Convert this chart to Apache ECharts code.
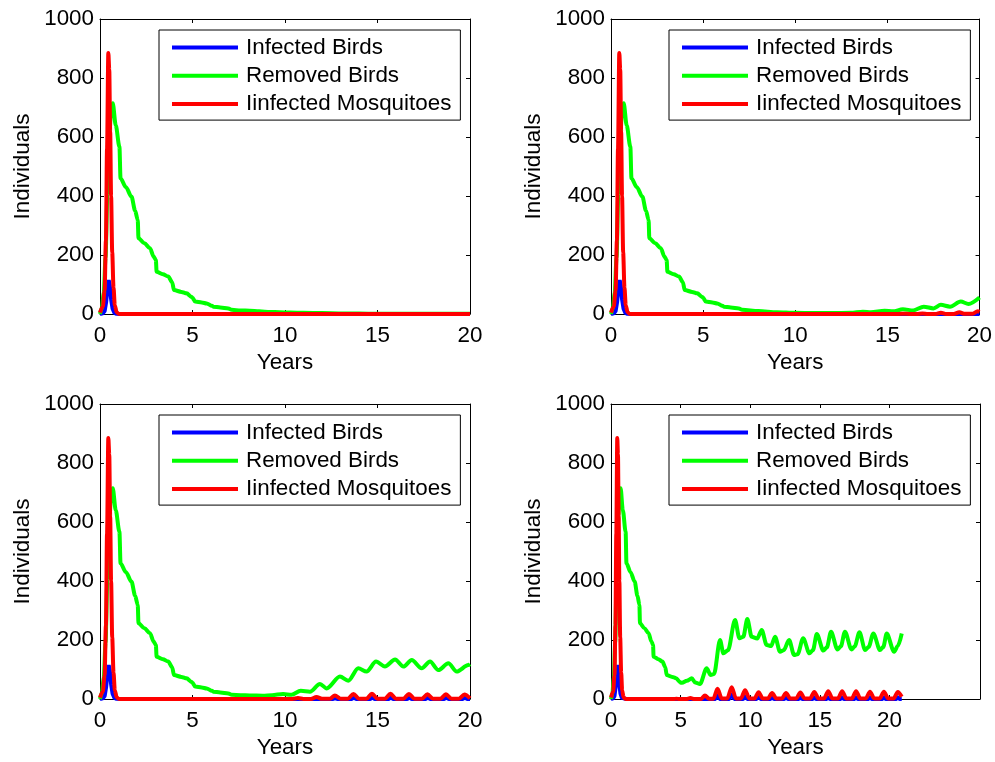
<!DOCTYPE html>
<html>
<head>
<meta charset="utf-8">
<script src="https://cdn.jsdelivr.net/npm/echarts@6/dist/echarts.min.js"></script>
<style>
  html, body { margin: 0; padding: 0; background: #fff; }
  #chart { width: 995px; height: 762px; }
</style>
</head>
<body>
<div id="chart"></div>
<script>
// Series labels shown in every legend box
const seriesNames = ['Infected Birds', 'Removed Birds', 'Iinfected Mosquitoes'];
const xTickValues = [0, 5, 10, 15, 20];
const yTickValues = [0, 200, 400, 600, 800, 1000];

// Initial outbreak, shared by all four scenarios: [years, individuals]
const birdOutbreak = [[0,0],[0.15,2],[0.25,10],[0.33,40],[0.4,85],[0.47,115],[0.53,95],[0.6,50],[0.68,18],[0.78,4],[0.9,0.5],[1.1,0]];
const mosquitoOutbreak = [[0,5],[0.15,25],[0.25,80],[0.32,250],[0.38,560],[0.45,885],[0.5,830],[0.55,620],[0.6,400],[0.66,210],[0.73,90],[0.8,30],[0.9,6],[1.0,1],[1.1,0]];
const removedOutbreak = [[0,0],[0.1,20],[0.2,70],[0.3,190],[0.4,410],[0.5,600],[0.6,690],[0.69,714],[0.85,640],[1.05,567],[1.11,460],[1.4,430],[1.7,398],[1.9,350],[2.04,319],[2.08,257],[2.4,240],[2.7,223],[2.9,195],[3.02,183],[3.06,143],[3.4,135],[3.69,127],[3.9,108],[4.0,81],[4.4,75],[4.68,70],[4.95,58],[5.0,55]];

// Scenario 1 (top left): the infection dies out
const birdTail1 = [[2,0],[20,0]];
const mosquitoTail1 = [[2,0],[20,0]];
const removedTail1 = [[5.14,42],[5.5,39],[5.77,36],[6.05,28],[6.12,25],[6.5,22],[6.94,19],[7.12,14],[7.6,12],[8.1,11],[8.6,9],[9.2,7],[9.7,6],[10.3,5],[11,4],[12,3],[13,2],[14,1.5],[15,1],[16,1],[17,1],[18,0.5],[19,0.5],[20,0.5]];

// Scenario 2 (top right): slow return late in the run
const birdTail2 = [[2,0],[20,0]];
const mosquitoTail2 = [[2,0],[15.6,0],[15.9,1],[16.2,0],[16.6,0],[16.9,2],[17.2,0],[17.6,0],[17.9,4],[18.2,0],[18.6,0],[18.9,6],[19.2,0.5],[19.6,0.5],[19.9,9],[20,7]];
const removedTail2 = [[5.14,42],[5.5,39],[5.77,36],[6.05,28],[6.12,25],[6.5,22],[6.94,19],[7.12,14],[8,10],[9,6],[10,4],[11,3],[12,3],[13,4],[13.67,8],[14.1,6],[14.85,11],[15.3,9],[15.84,16],[16.4,12],[16.97,25],[17.5,19],[17.9,31],[18.4,25],[18.98,42],[19.4,34],[20,56]];

// Scenario 3 (bottom left): seasonal re-emergence after ten years
const birdTail3 = [[2,0],[12.6,0],[12.72,3],[12.85,0],[13.6,0],[13.72,4],[13.85,0],[14.6,0],[14.72,5],[14.85,0],[15.6,0],[15.72,5],[15.85,0],[16.6,0],[16.72,5],[16.85,0],[17.6,0],[17.72,4],[17.85,0],[18.6,0],[18.72,4],[18.85,0],[19.6,0],[19.72,4],[19.85,0],[20,0]];
const mosquitoTail3 = [[2,0],[10.4,0],[10.7,3],[11.0,0],[11.4,0],[11.7,7],[12.0,0.5],[12.4,0.5],[12.7,12],[13.0,1],[13.4,1],[13.7,17],[14.0,1],[14.4,1],[14.7,18],[15.0,1],[15.4,1],[15.7,18],[16.0,1],[16.4,1],[16.7,17],[17.0,1],[17.4,1],[17.7,16],[18.0,1],[18.4,1],[18.7,16],[19.0,1],[19.4,1],[19.7,15],[20,2]];
const removedTail3 = [[5.14,42],[5.5,39],[5.77,36],[6.05,28],[6.12,25],[6.5,22],[6.94,19],[7.12,14],[7.6,13],[8.1,12],[8.8,11],[9.3,13],[9.9,17],[10.35,14],[10.85,28],[11.35,25],[11.89,51],[12.25,36],[12.97,76],[13.42,62],[13.96,104],[14.41,93],[14.92,127],[15.4,110],[15.95,134],[16.4,110],[16.85,132],[17.39,104],[17.84,127],[18.29,98],[18.83,121],[19.28,93],[19.91,115],[20,118]];

// Scenario 4 (bottom right): early endemic cycle, run to ~21 years
const birdTail4 = [[1.1,0],[7.5,0],[7.64,16],[7.8,0],[8.5,0],[8.67,18],[8.85,0],[9.5,0],[9.63,12],[9.78,0],[10.45,0],[10.6,8],[10.75,0],[11.45,0],[11.57,7],[11.7,0],[12.45,0],[12.57,7],[12.7,0],[13.5,0],[13.6,7],[13.72,0],[14.5,0],[14.6,8],[14.72,0],[15.5,0],[15.6,8],[15.72,0],[16.5,0],[16.6,8],[16.72,0],[17.5,0],[17.6,8],[17.72,0],[18.5,0],[18.6,8],[18.72,0],[19.5,0],[19.6,8],[19.72,0],[20.5,0],[20.6,8],[20.72,0],[20.88,0]];
const mosquitoTail4 = [[1.2,0],[4.5,0],[4.7,1],[4.9,0],[5.4,0],[5.7,3],[6.0,0],[6.45,0],[6.75,12],[7.05,1],[7.35,1],[7.65,35],[7.95,2],[8.35,2],[8.67,40],[8.97,2],[9.33,2],[9.63,30],[9.93,2],[10.3,2],[10.6,23],[10.9,2],[11.27,2],[11.57,20],[11.87,2],[12.27,2],[12.57,20],[12.87,2],[13.3,2],[13.6,22],[13.9,2],[14.3,2],[14.6,24],[14.9,2],[15.3,2],[15.6,26],[15.9,2],[16.3,2],[16.6,26],[16.9,2],[17.3,2],[17.6,26],[17.9,2],[18.3,2],[18.6,25],[18.9,2],[19.3,2],[19.6,25],[19.9,2],[20.3,2],[20.6,24],[20.88,8]];
const removedTail4 = [[5.1,55],[5.45,62],[5.8,70],[6.05,56],[6.39,51],[6.87,104],[7.16,81],[7.4,85],[7.83,200],[8.07,155],[8.4,165],[8.91,268],[9.22,206],[9.5,211],[9.79,271],[10.1,211],[10.5,205],[10.82,234],[11.18,183],[11.5,180],[11.78,211],[12.14,160],[12.4,165],[12.79,200],[13.15,149],[13.4,152],[13.8,206],[14.25,155],[14.5,165],[14.78,220],[15.25,164],[15.5,175],[15.8,228],[16.26,168],[16.5,178],[16.8,228],[17.27,168],[17.5,178],[17.84,226],[18.25,166],[18.5,176],[18.84,222],[19.32,166],[19.55,176],[19.8,222],[20.33,160],[20.6,180],[20.88,222]];

const COLORS = ['#0000ff', '#00ff00', '#ff0000'];
const FONT = '"Liberation Sans", Arial, Helvetica, sans-serif';
const FS = 22.4;

// Subplot layout (pixels) and axis extents
const panels = [
  { left: 100, top: 19,  width: 370, height: 295, xMax: 20,   legendLeft: 159, legendTop: 30,
    birds: birdTail1, removed: removedTail1, mosquitoes: mosquitoTail1 },
  { left: 611, top: 19,  width: 369, height: 295, xMax: 20,   legendLeft: 669, legendTop: 30,
    birds: birdTail2, removed: removedTail2, mosquitoes: mosquitoTail2 },
  { left: 100, top: 404, width: 370, height: 295, xMax: 20,   legendLeft: 159, legendTop: 415,
    birds: birdTail3, removed: removedTail3, mosquitoes: mosquitoTail3 },
  { left: 611, top: 404, width: 369, height: 295, xMax: 26.5, legendLeft: 669, legendTop: 415,
    birds: birdTail4, removed: removedTail4, mosquitoes: mosquitoTail4 }
];

const grid = [], xAxis = [], yAxis = [], series = [], legend = [];
const black = '#000';
const plain = v => String(v);
const tickStyle = { show: true, inside: true, length: 4, lineStyle: { color: black, width: 1 } };
const lineStyle = { show: true, onZero: false, lineStyle: { color: black, width: 1 } };

panels.forEach((p, i) => {
  grid.push({ left: p.left, top: p.top, width: p.width, height: p.height, containLabel: false, show: false });

  // bottom axis with labels, top axis only for the box and inner ticks
  xAxis.push({
    type: 'value', gridIndex: i, position: 'bottom', min: 0, max: p.xMax,
    axisLine: lineStyle,
    axisTick: Object.assign({ customValues: xTickValues }, tickStyle),
    axisLabel: { customValues: xTickValues, formatter: plain, fontSize: FS, fontFamily: FONT, color: black, margin: 11 },
    splitLine: { show: false },
    name: 'Years', nameLocation: 'middle', nameGap: 38,
    nameTextStyle: { fontSize: FS, fontFamily: FONT, color: black }
  });
  xAxis.push({
    type: 'value', gridIndex: i, position: 'top', min: 0, max: p.xMax,
    axisLine: lineStyle,
    axisTick: Object.assign({ customValues: xTickValues }, tickStyle),
    axisLabel: { show: false },
    splitLine: { show: false }
  });

  yAxis.push({
    type: 'value', gridIndex: i, position: 'left', min: 0, max: 1000, interval: 200,
    axisLine: lineStyle,
    axisTick: Object.assign({ customValues: yTickValues }, tickStyle),
    axisLabel: { customValues: yTickValues, formatter: plain, fontSize: FS, fontFamily: FONT, color: black, margin: 6 },
    splitLine: { show: false },
    name: 'Individuals', nameLocation: 'middle', nameGap: 66,
    nameTextStyle: { fontSize: FS, fontFamily: FONT, color: black }
  });
  yAxis.push({
    type: 'value', gridIndex: i, position: 'right', min: 0, max: 1000, interval: 200,
    axisLine: lineStyle,
    axisTick: Object.assign({ customValues: yTickValues }, tickStyle),
    axisLabel: { show: false },
    splitLine: { show: false }
  });

  const curves = [
    birdOutbreak.concat(p.birds),
    removedOutbreak.concat(p.removed),
    mosquitoOutbreak.concat(p.mosquitoes)
  ];
  curves.forEach((data, k) => {
    series.push({
      name: seriesNames[k], type: 'line', xAxisIndex: 2 * i, yAxisIndex: 2 * i,
      data: data, showSymbol: false, symbol: 'none', clip: false,
      smooth: k === 0 ? false : 0.3, smoothMonotone: 'x',
      lineStyle: { width: 4, color: COLORS[k] }, itemStyle: { color: COLORS[k] },
      emphasis: { disabled: true }, z: 2 + k
    });
  });

  legend.push({
    left: p.legendLeft, top: p.legendTop, orient: 'vertical',
    data: seriesNames, icon: 'rect', itemWidth: 66, itemHeight: 4, itemGap: 6.3,
    padding: [6.5, 9, 5, 13], borderColor: black, borderWidth: 1, backgroundColor: '#fff',
    selectedMode: false, z: 10,
    textStyle: { fontSize: FS, fontFamily: FONT, color: black, lineHeight: 22, padding: [0, 0, 0, 3] }
  });
});

const chart = echarts.init(document.getElementById('chart'), null, { renderer: 'canvas' });
chart.setOption({
  backgroundColor: '#fff',
  animation: false,
  grid, xAxis, yAxis, series, legend
});
</script>
</body>
</html>
